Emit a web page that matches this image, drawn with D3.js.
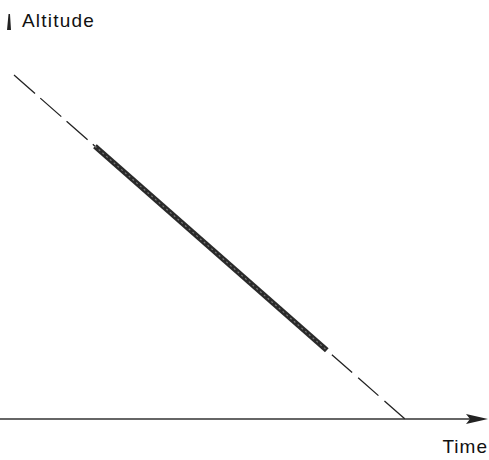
<!DOCTYPE html>
<html><head><meta charset="utf-8">
<script src="https://cdn.jsdelivr.net/npm/d3@7"></script>
<style>html,body{margin:0;padding:0;background:#fff;}svg{display:block;}</style>
</head><body>
<script>
// Data (arbitrary units: time 0..100, altitude 100..0)
const dashedUpper = [{t: 0, alt: 100}, {t: 20.7, alt: 79.3}];
const solidSegment = [{t: 20.7, alt: 79.3}, {t: 80.0, alt: 20.0}];
const dashedLower = [{t: 81.3, alt: 18.7}, {t: 100, alt: 0}];
const axisLabels = ["Altitude", "Time"];

const W = 489, H = 460;
const svg = d3.select("body").append("svg").attr("width", W).attr("height", H);

const x = d3.scaleLinear().domain([0, 100]).range([14, 405]);
const y = d3.scaleLinear().domain([0, 100]).range([419, 75]);
const line = d3.line().x(d => x(d.t)).y(d => y(d.alt));

// time axis with arrow
const axisY = y(0);
svg.append("line").attr("x1", 0).attr("x2", 470).attr("y1", axisY).attr("y2", axisY)
  .attr("stroke", "#333").attr("stroke-width", 1.5);
svg.append("path")
  .attr("d", `M466,${axisY-5} L488,${axisY} L466,${axisY+5} L470,${axisY} Z`)
  .attr("fill", "#222");

// altitude axis stub
svg.append("path").attr("d", "M8.5,14 L10,14 L11,30 L7,30 Z").attr("fill", "#222");

// dashed extrapolations
svg.append("path").datum(dashedUpper).attr("d", line)
  .attr("fill", "none").attr("stroke", "#222").attr("stroke-width", 1.3)
  .attr("stroke-dasharray", "28,7");
svg.append("path").datum(dashedLower).attr("d", line)
  .attr("fill", "none").attr("stroke", "#222").attr("stroke-width", 1.3)
  .attr("stroke-dasharray", "27,8");

// thick observed segment
svg.append("path").datum(solidSegment).attr("d", line)
  .attr("fill", "none").attr("stroke", "#2a2a2a").attr("stroke-width", 5.5)
  .attr("stroke-linecap", "butt");
svg.append("path").datum(solidSegment).attr("d", line)
  .attr("fill", "none").attr("stroke", "#777").attr("stroke-width", 1.2)
  .attr("stroke-dasharray", "2,3");

// labels
svg.append("text").attr("x", 22).attr("y", 27).text(axisLabels[0])
  .attr("font-family", "Liberation Sans, Arial, sans-serif").attr("font-size", 19)
  .attr("letter-spacing", 1.2).attr("fill", "#111");
svg.append("text").attr("x", 488).attr("y", 453).attr("text-anchor", "end").text(axisLabels[1])
  .attr("font-family", "Liberation Sans, Arial, sans-serif").attr("font-size", 19)
  .attr("letter-spacing", 1.0).attr("fill", "#111");
</script>
</body></html>
